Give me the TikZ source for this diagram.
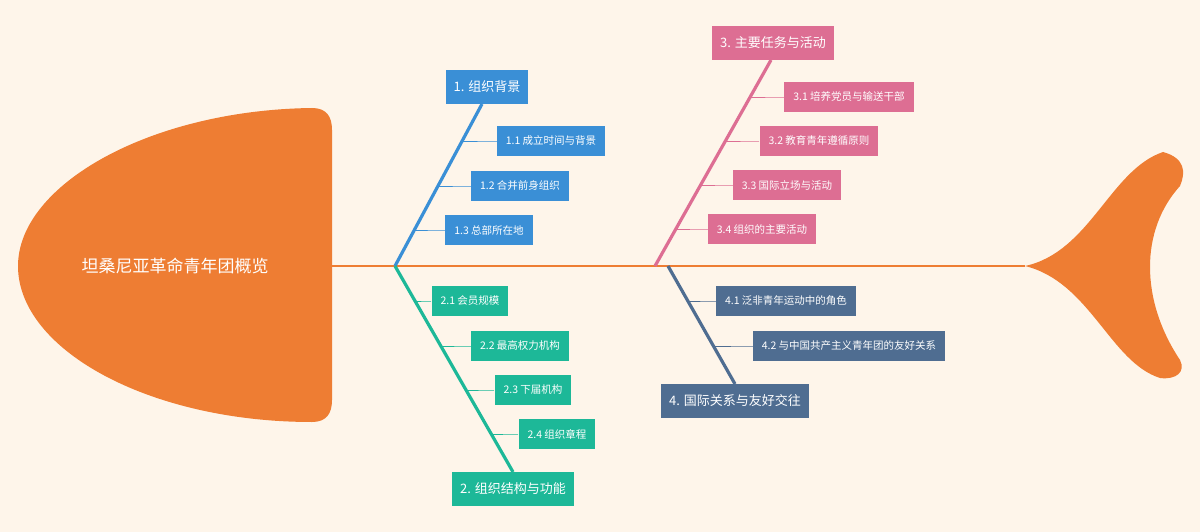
\documentclass[tikz,border=0pt]{standalone}
\usepackage{fontspec}
\newfontfamily\cjk{Noto Sans CJK SC}
\definecolor{bg}{HTML}{FEF5EA}
\definecolor{fish}{HTML}{EE7D33}
\definecolor{cA}{HTML}{3A8FD6}
\definecolor{cB}{HTML}{1DB898}
\definecolor{cC}{HTML}{DD6E93}
\definecolor{cD}{HTML}{4F6D91}
\begin{document}
\begin{tikzpicture}[x=1pt,y=-1pt,
  main/.style={fill=#1,text=white,minimum height=34pt,inner xsep=8pt,font=\cjk\fontsize{13}{15}\selectfont},
  sub/.style={fill=#1,text=white,minimum height=30pt,inner xsep=9pt,font=\cjk\fontsize{10.5}{12}\selectfont},
  br/.style={draw=#1,line width=3.2pt},
  cn/.style={draw=#1,line width=0.8pt}]
\fill[bg] (0,0) rectangle (1200,532);
\useasboundingbox (0,0) rectangle (1200,532);
% head
\fill[fish] (312,108) .. controls (150,110) and (18,185) .. (18,266)
  .. controls (18,350) and (150,422) .. (312,422)
  .. controls (326,422) and (332,414) .. (332,400) -- (332,130)
  .. controls (332,116) and (326,108) .. (312,108) -- cycle;
\node[text=white,font=\cjk\fontsize{17}{20}\selectfont] (title) at (175,266) {坦桑尼亚革命青年团概览};
% tail
\coordinate (tl) at (1025,266);
\fill[fish] (tl) .. controls (1090,252) and (1110,170) .. (1163,152)
  .. controls (1185,158) and (1186,172) .. (1180,186)
  .. controls (1140,230) and (1140,300) .. (1180,360)
  .. controls (1186,372) and (1176,380) .. (1160,378)
  .. controls (1110,362) and (1090,282) .. (tl) -- cycle;
\coordinate (hd) at (332,266);
\draw[fish,line width=1.6pt] (hd) -- (tl);
% branch coordinates
\coordinate (s1) at (395,266); \coordinate (e1) at (482,104);
\coordinate (s2) at (395,266); \coordinate (e2) at (513,472);
\coordinate (s3) at (655,266); \coordinate (e3) at (771,60);
\coordinate (s4) at (668,266); \coordinate (e4) at (735,384);
\draw[br=cA] (s1) -- (e1);
\draw[br=cB] (s2) -- (e2);
\draw[br=cC] (s3) -- (e3);
\draw[br=cD] (s4) -- (e4);
\node[main=cA] (m1) at (487,87) {1. 组织背景};
\node[main=cB] (m2) at (513,489) {2. 组织结构与功能};
\node[main=cC] (m3) at (773,43) {3. 主要任务与活动};
\node[main=cD] (m4) at (735,401) {4. 国际关系与友好交往};
% subs
\node[sub=cA] (a1) at (551,141) {1.1 成立时间与背景};
\node[sub=cA] (a2) at (520,186) {1.2 合并前身组织};
\node[sub=cA] (a3) at (489,230) {1.3 总部所在地};
\node[sub=cB] (b1) at (470,301) {2.1 会员规模};
\node[sub=cB] (b2) at (520,346) {2.2 最高权力机构};
\node[sub=cB] (b3) at (533,390) {2.3 下届机构};
\node[sub=cB] (b4) at (557,434) {2.4 组织章程};
\node[sub=cC] (c1) at (849,97) {3.1 培养党员与输送干部};
\node[sub=cC] (c2) at (819,141) {3.2 教育青年遵循原则};
\node[sub=cC] (c3) at (787,185) {3.3 国际立场与活动};
\node[sub=cC] (c4) at (762,229) {3.4 组织的主要活动};
\node[sub=cD] (d1) at (786,301) {4.1 泛非青年运动中的角色};
\node[sub=cD] (d2) at (849,346) {4.2 与中国共产主义青年团的友好关系};
\foreach \n/\x/\c in {a1/462/cA,a2/438/cA,a3/414/cA,b1/415/cB,b2/441/cB,b3/466/cB,b4/491/cB,c1/750/cC,c2/725/cC,c3/701/cC,c4/676/cC,d1/688/cD,d2/713/cD}{
  \coordinate (h) at (\x,0);
  \draw[cn=\c] (\n.west) -- ++(-4,0) -- (h |- \n.west);
}
\end{tikzpicture}
\end{document}
